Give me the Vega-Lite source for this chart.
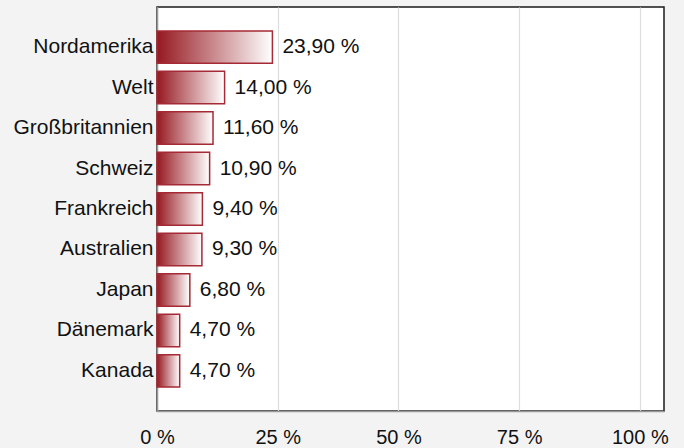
{
  "$schema": "https://vega.github.io/schema/vega-lite/v6.json",
  "autosize": "none",
  "padding": {"left": 157, "top": 7, "right": 20, "bottom": 37},
  "width": 507,
  "height": 404,
  "background": "#f3f3f3",
  "config": {
    "view": {"fill": "#ffffff", "stroke": "#1a1a1a", "strokeWidth": 1.5},
    "font": "Liberation Sans"
  },
  "data": {
    "values": [
      {"region": "Nordamerika", "value": 23.9, "label": "23,90 %"},
      {"region": "Welt", "value": 14.0, "label": "14,00 %"},
      {"region": "Großbritannien", "value": 11.6, "label": "11,60 %"},
      {"region": "Schweiz", "value": 10.9, "label": "10,90 %"},
      {"region": "Frankreich", "value": 9.4, "label": "9,40 %"},
      {"region": "Australien", "value": 9.3, "label": "9,30 %"},
      {"region": "Japan", "value": 6.8, "label": "6,80 %"},
      {"region": "Dänemark", "value": 4.7, "label": "4,70 %"},
      {"region": "Kanada", "value": 4.7, "label": "4,70 %"}
    ]
  },
  "encoding": {
    "y": {
      "field": "region",
      "type": "nominal",
      "sort": null,
      "scale": {"paddingInner": 0.2, "paddingOuter": 0.59},
      "axis": {
        "title": null,
        "ticks": false,
        "labelPadding": 4,
        "labelFontSize": 21,
        "labelColor": "#111111",
        "labelFont": "Liberation Sans",
        "domainColor": "#999999",
        "domainWidth": 1.5
      }
    },
    "x": {
      "field": "value",
      "type": "quantitative",
      "scale": {"domain": [0, 105], "nice": false},
      "axis": {
        "title": null,
        "values": [0, 25, 50, 75, 100],
        "labelExpr": "datum.value + ' %'",
        "ticks": false,
        "labelPadding": 16,
        "labelFontSize": 20,
        "labelColor": "#111111",
        "labelFont": "Liberation Sans",
        "labelFlush": false,
        "gridColor": "#dddddd",
        "gridWidth": 1.2,
        "domainColor": "#999999",
        "domainWidth": 1.5
      }
    }
  },
  "layer": [
    {
      "mark": {
        "type": "bar",
        "stroke": "#a52a35",
        "strokeWidth": 1.5,
        "fill": {
          "gradient": "linear",
          "x1": 0, "y1": 0, "x2": 1, "y2": 0,
          "stops": [
            {"offset": 0, "color": "#961820"},
            {"offset": 1, "color": "#ffffff"}
          ]
        }
      }
    },
    {
      "mark": {
        "type": "text",
        "align": "left",
        "baseline": "middle",
        "dx": 10,
        "fontSize": 21,
        "color": "#111111",
        "font": "Liberation Sans"
      },
      "encoding": {"text": {"field": "label"}}
    }
  ]
}
